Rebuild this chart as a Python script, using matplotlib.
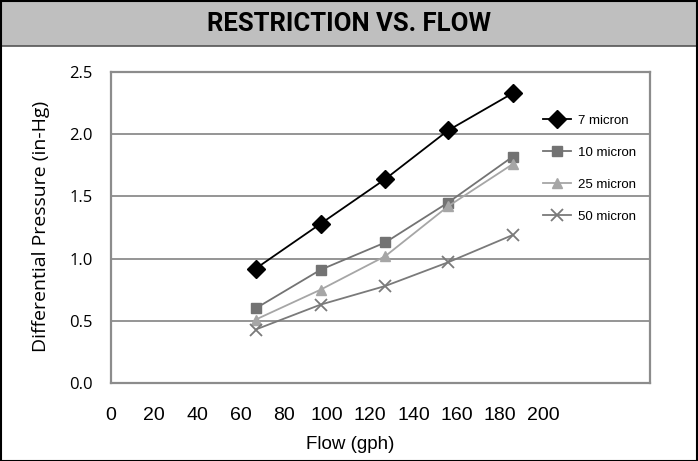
import matplotlib
matplotlib.use("Agg")
import matplotlib.pyplot as plt
from matplotlib.patches import Rectangle

# data
flow = [67, 97, 127, 156, 186]
series_names = ["7 micron", "10 micron", "25 micron", "50 micron"]
p7 = [0.92, 1.28, 1.64, 2.03, 2.33]
p10 = [0.60, 0.91, 1.13, 1.45, 1.82]
p25 = [0.51, 0.75, 1.02, 1.42, 1.76]
p50 = [0.43, 0.63, 0.78, 0.97, 1.19]
x_ticks = [0, 20, 40, 60, 80, 100, 120, 140, 160, 180, 200]
y_ticks = [0.0, 0.5, 1.0, 1.5, 2.0, 2.5]

fig = plt.figure(figsize=(6.98, 4.61), dpi=100)

# title banner
banner = Rectangle((0, 1 - 46 / 461), 1, 46 / 461, transform=fig.transFigure,
                   facecolor="#bfbfbf", edgecolor="#555555", lw=1.2, zorder=0)
fig.patches.append(banner)
fig.text(0.5, 1 - 24 / 461, "RESTRICTION VS. FLOW", ha="center", va="center",
         fontsize=18.5, fontweight="bold", family="Roboto")
# outer frame
fig.patches.append(Rectangle((0.001, 0.001), 0.998, 0.997, transform=fig.transFigure,
                             fill=False, edgecolor="black", lw=1.5, zorder=5))

ax = fig.add_axes([111 / 698, 78 / 461, 539 / 698, 311 / 461])

ax.plot(flow, p7, color="black", lw=1.3, marker="D", markersize=9, label=series_names[0])
ax.plot(flow, p10, color="#737373", lw=1.3, marker="s", markersize=7, label=series_names[1])
ax.plot(flow, p25, color="#a6a6a6", lw=1.3, marker="^", markersize=7, label=series_names[2])
ax.plot(flow, p50, color="#7a7a7a", lw=1.3, marker="x", markersize=8, mew=1.3, label=series_names[3])

ax.set_xlim(0, 249.5)
ax.set_ylim(0, 2.5)
ax.set_xticks(x_ticks)
ax.set_yticks(y_ticks)
ax.set_yticklabels([f"{v:.1f}" for v in y_ticks])
ax.tick_params(axis="both", length=0)
ax.tick_params(axis="x", pad=17, labelsize=14)
ax.tick_params(axis="y", pad=13, labelsize=12)
for lab in ax.get_xticklabels():
    lab.set_family("Liberation Sans")
for lab in ax.get_yticklabels():
    lab.set_family("Open Sans")

ax.grid(axis="y", color="#8c8c8c", lw=1.3)
ax.set_axisbelow(True)
for s in ax.spines.values():
    s.set_color("#8c8c8c")
    s.set_linewidth(1.6)

ax.set_xlabel("Flow (gph)", fontsize=13.5, family="Liberation Sans")
ax.xaxis.set_label_coords((350 - 111) / 539, -0.17)
ax.set_ylabel("Differential Pressure (in-Hg)", fontsize=14, family="Open Sans")
ax.yaxis.set_label_coords(-0.113, 0.505)

leg = ax.legend(loc="upper left", bbox_to_anchor=(0.79, 0.884), frameon=False,
                labelspacing=1.5, handlelength=2.1, handletextpad=0.5,
                borderpad=0, prop={"family": "Liberation Sans", "size": 9.5})

fig.savefig("out.png", dpi=100)
